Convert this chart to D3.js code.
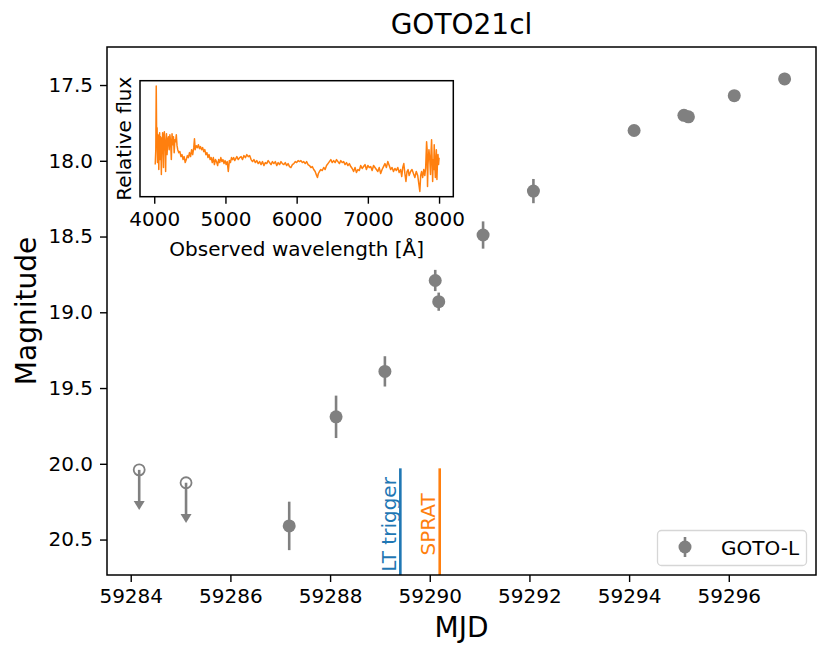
<!DOCTYPE html>
<html>
<head>
<meta charset="utf-8">
<script src="https://cdn.jsdelivr.net/npm/d3@7"></script>
<style>
  body { margin: 0; background: #fff; }
  svg { font-family: "DejaVu Sans", sans-serif; }
</style>
</head>
<body>
<div id="chart"></div>
<script>
// GOTO-L detections
const mjd = [59287.18, 59288.12, 59289.10, 59290.11, 59290.18, 59291.07, 59292.08, 59294.10, 59295.10, 59295.19, 59296.11, 59297.12];
const mag = [20.41, 19.69, 19.39, 18.79, 18.93, 18.49, 18.20, 17.80, 17.70, 17.71, 17.57, 17.46];
const magErr = [0.16, 0.14, 0.10, 0.07, 0.06, 0.09, 0.08, 0.03, 0.03, 0.03, 0.03, 0.04];

// upper limits
const limMjd = [59284.17, 59285.11];
const limMag = [20.04, 20.125];

// epochs marked with vertical lines
const eventNames = ["LT trigger", "SPRAT"];
const eventMjd = [59289.41, 59290.20];
const eventTop = 20.03;

const xTicks = [59284, 59286, 59288, 59290, 59292, 59294, 59296];
const yTicks = [17.5, 18.0, 18.5, 19.0, 19.5, 20.0, 20.5];

// SPRAT spectrum (inset), flux in arbitrary units
const wave = [4014,4022,4028,4034,4040,4046,4052,4058,4064,4070,4076,4082,4088,4094,4100,4106,4112,4118,4124,4130,
  4136,4142,4148,4154,4160,4166,4172,4180,4190,4200,4210,4220,4230,4240,4250,4260,4270,4280,4290,4300,
  4310,4320,4330,4345,4360,4375,4390,4405,4420,4435,4450,4465,4480,4495,4510,4525,4540,4555,4565,4575,
  4590,4605,4620,4635,4650,4665,4680,4695,4710,4725,4740,4755,4770,4785,4800,4815,4830,4845,4860,4875,
  4890,4905,4920,4935,4950,4965,4980,4995,5010,5025,5040,5055,5070,5085,5100,5115,5130,5145,5160,5180,
  5200,5220,5240,5260,5280,5300,5320,5340,5360,5380,5400,5420,5440,5460,5480,5500,5520,5540,5560,5580,
  5600,5620,5640,5660,5680,5700,5720,5740,5760,5780,5800,5820,5840,5860,5880,5900,5920,5940,5960,5980,
  6000,6020,6040,6060,6080,6100,6120,6140,6160,6180,6200,6220,6240,6260,6280,6292,6305,6320,6340,6360,
  6380,6400,6420,6440,6460,6480,6500,6520,6540,6560,6580,6600,6620,6640,6660,6680,6700,6720,6740,6760,
  6780,6800,6820,6840,6860,6880,6900,6920,6940,6960,6980,7000,7020,7040,7060,7080,7100,7120,7140,7160,
  7180,7200,7220,7240,7260,7280,7300,7320,7340,7360,7380,7400,7420,7440,7460,7476,7490,7505,7520,7535,
  7550,7565,7580,7600,7620,7640,7660,7680,7700,7715,7730,7742,7755,7770,7785,7800,7812,7825,7832,7838,
  7845,7858,7870,7880,7888,7895,7902,7910,7918,7925,7932,7940,7948,7955,7962,7970,7978,7985,7993,8000];
const flux = [35,50,114,60,72,37,65,55,30,60,67,40,63,50,25,62,52,67,48,32,
  60,68,50,57,28,60,66,45,60,63,50,65,58,40,66,55,63,47,60,58,
  65,54,50,47,48,43,45,40,43,37,40,44,42,47,43,50,45,52,61,50,
  54,52,55,51,53,50,52,48,50,45,47,42,45,40,42,37,42,35,40,38,
  34,40,37,42,38,40,36,39,35,38,28,39,37,42,40,42,39,41,43,40,
  42,43,40,44,42,45,43,44,40,38,40,37,39,36,38,35,38,34,37,36,
  39,37,35,38,36,38,34,37,35,38,36,35,37,34,36,33,32,35,36,38,
  37,39,38,39,37,38,36,38,35,34,32,33,30,28,24,22,26,28,30,29,
  32,30,34,36,38,40,37,39,37,40,38,36,39,37,38,35,37,34,36,33,
  31,28,32,27,30,29,34,31,33,35,30,34,32,33,29,34,32,30,28,32,
  26,30,33,36,32,38,34,30,32,28,31,29,32,27,30,23,32,36,26,18,
  28,30,24,28,30,26,22,28,24,16,8,24,28,22,30,24,32,58,50,13,
  35,50,40,25,48,60,42,18,40,30,55,35,22,40,50,20,38,45,35,42];
const waveTicks = [4000, 5000, 6000, 7000, 8000];

const W = 831, H = 658;
const grey = "#808080";
const blue = "#1f77b4", orange = "#ff7f0e";
const colors = [blue, orange];
const small = 20, big = 28;

const svg = d3.select("#chart").append("svg")
  .attr("width", W)
  .attr("height", H);

// main axes area
const x = d3.scaleLinear().domain([59283.524, 59297.75]).range([107, 816]);
const y = d3.scaleLinear().domain([17.249, 20.734]).range([47, 575]);

// vertical event lines + labels
eventMjd.forEach((m, i) => {
  svg.append("line")
    .attr("x1", x(m)).attr("x2", x(m))
    .attr("y1", y(eventTop)).attr("y2", y.range()[1])
    .attr("stroke", colors[i]).attr("stroke-width", 2.6);
  svg.append("text")
    .attr("transform", `translate(${x(m) - 4.5},${y(20.4)}) rotate(-90)`)
    .attr("text-anchor", "middle")
    .attr("font-size", small)
    .attr("fill", colors[i])
    .text(eventNames[i]);
});

// error bars
svg.selectAll(".err")
  .data(mjd)
  .enter().append("line")
  .attr("x1", d => x(d)).attr("x2", d => x(d))
  .attr("y1", (d, i) => y(mag[i] - magErr[i]))
  .attr("y2", (d, i) => y(mag[i] + magErr[i]))
  .attr("stroke", grey).attr("stroke-width", 2.6);

svg.selectAll(".pt")
  .data(mjd)
  .enter().append("circle")
  .attr("cx", d => x(d))
  .attr("cy", (d, i) => y(mag[i]))
  .attr("r", 6.5)
  .attr("fill", grey);

// upper limits: open circle with arrow
const arrowLen = 0.265;
limMjd.forEach((m, i) => {
  const cx = x(m), cy = y(limMag[i]), tip = y(limMag[i] + arrowLen);
  svg.append("line")
    .attr("x1", cx).attr("x2", cx)
    .attr("y1", cy).attr("y2", tip - 4)
    .attr("stroke", grey).attr("stroke-width", 2.6);
  svg.append("path")
    .attr("d", `M${cx - 5.5},${tip - 9}L${cx + 5.5},${tip - 9}L${cx},${tip}Z`)
    .attr("fill", grey);
  svg.append("circle")
    .attr("cx", cx).attr("cy", cy).attr("r", 5.5)
    .attr("fill", "none")
    .attr("stroke", grey).attr("stroke-width", 1.8);
});

// axes
const xAxis = svg.append("g")
  .attr("transform", "translate(0,575)")
  .call(d3.axisBottom(x).tickValues(xTicks).tickFormat(d3.format("d")).tickSize(7).tickPadding(7));
const yAxis = svg.append("g")
  .attr("transform", "translate(107,0)")
  .call(d3.axisLeft(y).tickValues(yTicks).tickFormat(d3.format(".1f")).tickSize(7).tickPadding(7));
[xAxis, yAxis].forEach(g => {
  g.select(".domain").remove();
  g.selectAll("line").attr("stroke", "#000").attr("stroke-width", 1.4);
  g.selectAll("text").attr("font-size", small).attr("fill", "#000").attr("font-family", "DejaVu Sans");
});

svg.append("rect")
  .attr("x", 107).attr("y", 47).attr("width", 709).attr("height", 528)
  .attr("fill", "none").attr("stroke", "#000").attr("stroke-width", 1.5);

// legend
const leg = svg.append("g");
leg.append("rect")
  .attr("x", 657.5).attr("y", 530.5).attr("width", 149).attr("height", 35)
  .attr("rx", 4).attr("fill", "#fff").attr("fill-opacity", 0.8)
  .attr("stroke", "#d6d6d6").attr("stroke-width", 1.3);
leg.append("line")
  .attr("x1", 685).attr("x2", 685).attr("y1", 537).attr("y2", 557)
  .attr("stroke", grey).attr("stroke-width", 2.6);
leg.append("circle").attr("cx", 685).attr("cy", 547).attr("r", 6.5).attr("fill", grey);
leg.append("text").attr("x", 721).attr("y", 555).attr("font-size", small).text("GOTO-L");

// titles
svg.append("text").attr("x", 461.5).attr("y", 34).attr("text-anchor", "middle")
  .attr("font-size", big).text("GOTO21cl");
svg.append("text").attr("x", 461.5).attr("y", 637).attr("text-anchor", "middle")
  .attr("font-size", big).text("MJD");
svg.append("text").attr("transform", "translate(36,311) rotate(-90)").attr("text-anchor", "middle")
  .attr("font-size", big).text("Magnitude");

// inset spectrum
const ix = d3.scaleLinear().domain([3800, 8200]).range([140, 453.3]);
const iy = d3.scaleLinear().domain([2.7, 119.3]).range([196.7, 80.7]);

svg.append("rect")
  .attr("x", 140).attr("y", 80.7).attr("width", 313.3).attr("height", 116)
  .attr("fill", "#fff");

const specLine = d3.line()
  .x((d, i) => ix(wave[i]))
  .y(d => iy(d));
svg.append("path")
  .datum(flux)
  .attr("d", specLine)
  .attr("fill", "none")
  .attr("stroke", orange)
  .attr("stroke-width", 1.5)
  .attr("stroke-linejoin", "round");

const insetAxis = svg.append("g")
  .attr("transform", "translate(0,196.7)")
  .call(d3.axisBottom(ix).tickValues(waveTicks).tickFormat(d3.format("d")).tickSize(7).tickPadding(8));
insetAxis.select(".domain").remove();
insetAxis.selectAll("line").attr("stroke", "#000").attr("stroke-width", 1.4);
insetAxis.selectAll("text").attr("font-size", small).attr("fill", "#000").attr("font-family", "DejaVu Sans");

svg.append("rect")
  .attr("x", 140).attr("y", 80.7).attr("width", 313.3).attr("height", 116)
  .attr("fill", "none").attr("stroke", "#000").attr("stroke-width", 1.5);

svg.append("text").attr("x", 296.7).attr("y", 256).attr("text-anchor", "middle")
  .attr("font-size", small).text("Observed wavelength [Å]");
svg.append("text").attr("transform", "translate(131,138.7) rotate(-90)").attr("text-anchor", "middle")
  .attr("font-size", small).text("Relative flux");
</script>
</body>
</html>
